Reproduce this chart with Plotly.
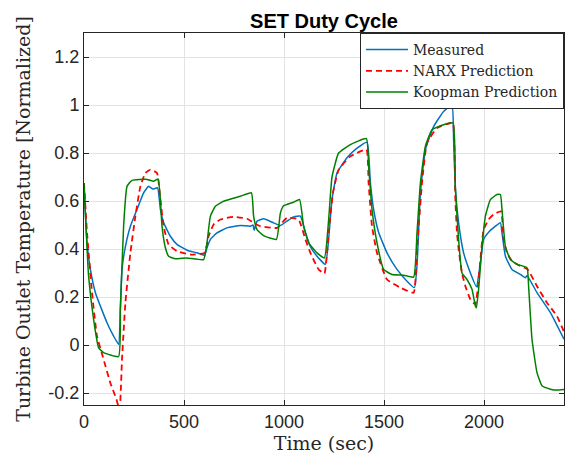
import plotly.graph_objects as go

# Measured turbine outlet temperature (normalized)
meas_t = [0, 15, 32, 57, 82, 115, 148, 173, 182, 190, 207, 232, 265, 298, 323, 345, 368, 382,
          398, 432, 465, 515, 565, 603, 615, 632, 665, 715, 782, 832, 845, 851, 865, 898, 948,
          982, 1015, 1048, 1082, 1107, 1132, 1165, 1207, 1223, 1240, 1265, 1315, 1365, 1415,
          1432, 1448, 1473, 1515, 1565, 1615, 1652, 1665, 1682, 1707, 1748, 1798, 1840, 1848,
          1857, 1873, 1898, 1932, 1962, 1982, 1998, 2023, 2057, 2082, 2090, 2107, 2140, 2182,
          2207, 2215, 2265, 2332, 2400]
meas_y = [0.675, 0.426, 0.315, 0.218, 0.162, 0.093, 0.037, 0.003, 0.16, 0.315, 0.41, 0.495,
          0.565, 0.634, 0.661, 0.65, 0.655, 0.565, 0.51, 0.453, 0.419, 0.395, 0.384, 0.374,
          0.405, 0.44, 0.467, 0.488, 0.498, 0.495, 0.50, 0.478, 0.516, 0.526, 0.509, 0.498,
          0.516, 0.534, 0.537, 0.47, 0.41, 0.37, 0.336, 0.44, 0.606, 0.717, 0.78, 0.82, 0.845,
          0.675, 0.565, 0.47, 0.384, 0.315, 0.266, 0.239, 0.33, 0.634, 0.814, 0.91, 0.973, 1.0,
          0.856, 0.65, 0.51, 0.384, 0.30, 0.243, 0.343, 0.44, 0.47, 0.495, 0.51, 0.467, 0.37,
          0.315, 0.294, 0.28, 0.29, 0.218, 0.135, 0.024]

# NARX model prediction
narx_t = [0, 15, 40, 65, 98, 131, 162, 178, 190, 207, 232, 257, 282, 307, 332, 365, 382, 398,
          423, 465, 532, 603, 623, 648, 682, 748, 815, 848, 882, 965, 1015, 1073, 1107, 1132,
          1173, 1202, 1223, 1245, 1273, 1332, 1412, 1423, 1440, 1465, 1515, 1582, 1648, 1665,
          1690, 1715, 1765, 1832, 1845, 1857, 1865, 1873, 1890, 1907, 1932, 1957, 1973, 1998,
          2023, 2048, 2085, 2098, 2115, 2140, 2182, 2218, 2265, 2315, 2365, 2400]
narx_y = [0.675, 0.47, 0.218, 0.037, -0.06, -0.156, -0.226, -0.27, -0.06, 0.176, 0.384, 0.537,
          0.661, 0.717, 0.731, 0.717, 0.606, 0.495, 0.419, 0.391, 0.377, 0.384, 0.453, 0.502,
          0.523, 0.534, 0.526, 0.509, 0.495, 0.488, 0.53, 0.523, 0.44, 0.384, 0.315, 0.298,
          0.467, 0.634, 0.73, 0.786, 0.814, 0.675, 0.495, 0.384, 0.273, 0.239, 0.218, 0.40,
          0.675, 0.842, 0.904, 0.925, 0.925, 0.60, 0.467, 0.40, 0.30, 0.245, 0.19, 0.169, 0.273,
          0.48, 0.523, 0.544, 0.557, 0.44, 0.384, 0.35, 0.329, 0.315, 0.245, 0.176, 0.12, 0.055]

# Koopman model prediction
koop_t = [0, 23, 48, 73, 98, 173, 182, 198, 215, 240, 315, 348, 370, 382, 390, 407, 423, 457,
          515, 598, 615, 632, 657, 698, 782, 837, 848, 865, 898, 962, 982, 998, 1048, 1078, 1098,
          1123, 1165, 1202, 1223, 1240, 1273, 1332, 1412, 1423, 1440, 1465, 1498, 1540, 1598,
          1648, 1665, 1682, 1707, 1740, 1798, 1845, 1857, 1873, 1890, 1915, 1940, 1957, 1962,
          1973, 1990, 2007, 2032, 2065, 2082, 2090, 2107, 2132, 2165, 2215, 2223, 2240, 2265,
          2290, 2332, 2365, 2400]
koop_y = [0.675, 0.287, 0.107, -0.011, -0.032, -0.048, 0.148, 0.495, 0.661, 0.686, 0.69, 0.682,
          0.692, 0.606, 0.495, 0.405, 0.37, 0.359, 0.363, 0.356, 0.426, 0.537, 0.578, 0.599,
          0.62, 0.634, 0.537, 0.481, 0.456, 0.44, 0.55, 0.58, 0.595, 0.606, 0.495, 0.426, 0.384,
          0.363, 0.52, 0.70, 0.80, 0.835, 0.86, 0.745, 0.565, 0.426, 0.315, 0.294, 0.291, 0.283,
          0.467, 0.675, 0.828, 0.897, 0.918, 0.925, 0.65, 0.44, 0.30, 0.273, 0.232, 0.162, 0.155,
          0.232, 0.41, 0.537, 0.606, 0.627, 0.627, 0.565, 0.41, 0.356, 0.336, 0.322, 0.245,
          0.024, -0.115, -0.17, -0.184, -0.188, -0.185]

x_ticks = [0, 500, 1000, 1500, 2000]
y_ticks = [-0.2, 0, 0.2, 0.4, 0.6, 0.8, 1, 1.2]
y_tick_labels = ["-0.2", "0", "0.2", "0.4", "0.6", "0.8", "1", "1.2"]

SERIF = "DejaVu Serif, serif"
SANS = "Liberation Sans, Arial, sans-serif"
INK = "#262626"

fig = go.Figure()
fig.add_trace(go.Scatter(x=meas_t, y=meas_y, mode="lines", name="Measured",
                         line=dict(color="#0072BD", width=1.5, shape="spline", smoothing=0.4)))
fig.add_trace(go.Scatter(x=narx_t, y=narx_y, mode="lines", name="NARX Prediction",
                         line=dict(color="#FF0000", width=1.8, dash="6px,4px",
                                   shape="spline", smoothing=0.4)))
fig.add_trace(go.Scatter(x=koop_t, y=koop_y, mode="lines", name="Koopman Prediction",
                         line=dict(color="#008000", width=1.5, shape="spline", smoothing=0.4)))

axis_common = dict(
    showgrid=True, gridcolor="#e3e3e3", gridwidth=1,
    showline=True, linecolor=INK, linewidth=1, mirror="ticks",
    ticks="inside", ticklen=5, tickcolor=INK,
    tickfont=dict(family=SANS, size=18, color=INK),
    zeroline=False, automargin=False,
)

fig.update_xaxes(range=[0, 2400], tickvals=x_ticks,
                 title=dict(text="Time (sec)", font=dict(family=SERIF, size=19, color=INK),
                            standoff=4),
                 **axis_common)
fig.update_yaxes(range=[-0.25, 1.3], tickvals=y_ticks, ticktext=y_tick_labels,
                 title=dict(text="Turbine Outlet Temperature [Normalized]",
                            font=dict(family=SERIF, size=19, color=INK), standoff=12),
                 **axis_common)

fig.update_layout(
    width=574, height=461,
    margin=dict(l=84, r=10, t=33, b=56),
    paper_bgcolor="white", plot_bgcolor="white",
    title=dict(text="<b>SET Duty Cycle</b>", x=0.5, xref="paper", xanchor="center",
               y=1 - 21 / 461, yref="container", yanchor="middle",
               font=dict(family=SANS, size=20, color="black")),
    legend=dict(x=1, y=1, xanchor="right", yanchor="top",
                bgcolor="white", bordercolor=INK, borderwidth=1,
                font=dict(family=SERIF, size=14, color=INK),
                tracegroupgap=0, itemwidth=42),
    showlegend=True,
)

# drop the browser's default body margin so the figure sits at the page origin
fig.write_html("out.html", config={"displayModeBar": False},
               post_script="document.body.style.margin='0';")
